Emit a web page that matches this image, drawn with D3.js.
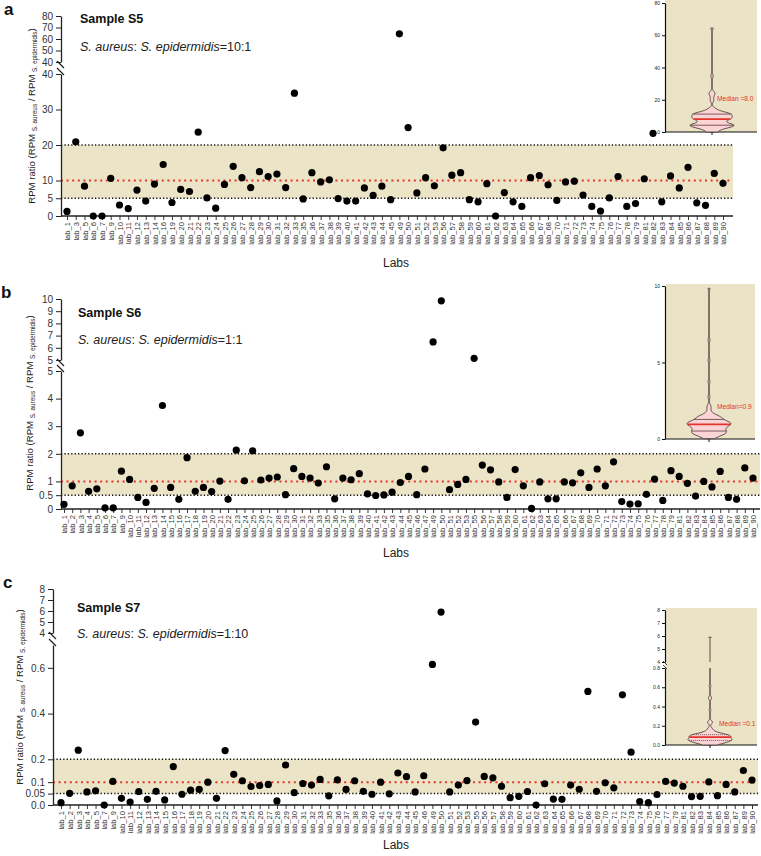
<!DOCTYPE html>
<html><head><meta charset="utf-8">
<script src="https://cdn.jsdelivr.net/npm/d3@7"></script>
<style>body{margin:0;background:#fff} svg{display:block;font-family:"Liberation Sans",Arial,Helvetica,sans-serif}</style>
</head><body><svg id="chart" width="761" height="856"></svg>
<script>
// ---------------- DATA ----------------
const labsA = ["lab_1","lab_3","lab_5","lab_6","lab_7","lab_9","lab_10","lab_11","lab_12","lab_13","lab_14","lab_16","lab_19","lab_20","lab_21","lab_22","lab_23","lab_24","lab_25","lab_26","lab_27","lab_28","lab_29","lab_30","lab_31","lab_32","lab_33","lab_35","lab_36","lab_37","lab_38","lab_39","lab_40","lab_41","lab_42","lab_43","lab_44","lab_45","lab_49","lab_50","lab_51","lab_52","lab_53","lab_56","lab_57","lab_58","lab_59","lab_60","lab_61","lab_62","lab_63","lab_64","lab_65","lab_66","lab_67","lab_68","lab_70","lab_71","lab_72","lab_73","lab_74","lab_75","lab_76","lab_77","lab_78","lab_79","lab_81","lab_82","lab_83","lab_84","lab_85","lab_86","lab_87","lab_88","lab_89","lab_90"];
const valuesA = [1.3,20.9,8.4,0,0,10.6,3.1,2.1,7.3,4.2,9.0,14.5,3.8,7.5,6.9,23.6,5.1,2.2,8.9,14.0,10.8,8.0,12.5,11.1,11.8,8.0,34.6,4.8,12.2,9.6,10.2,4.9,4.2,4.2,7.9,5.8,
  8.4,4.6,64.5,24.9,6.5,10.8,8.5,19.2,11.5,12.2,4.6,4.0,9.1,0.0,6.6,4.0,2.7,10.8,11.4,8.8,4.4,9.6,9.8,5.9,2.7,1.4,5.1,11.1,2.7,3.5,10.5,23.3,4.0,11.3,7.9,13.7,3.7,3.0,12.0,9.2];

const labsB = ["lab_1","lab_2","lab_3","lab_4","lab_5","lab_6","lab_7","lab_9","lab_10","lab_11","lab_12","lab_13","lab_14","lab_15","lab_16","lab_17","lab_18","lab_19","lab_20","lab_21","lab_22","lab_23","lab_24","lab_25","lab_26","lab_27","lab_28","lab_29","lab_30","lab_31","lab_32","lab_33","lab_35","lab_36","lab_37","lab_38","lab_39","lab_40","lab_41","lab_42","lab_43","lab_44","lab_45","lab_46","lab_47","lab_49","lab_50","lab_51","lab_52","lab_53","lab_55","lab_56","lab_57","lab_58","lab_59","lab_60","lab_61","lab_62","lab_63","lab_64","lab_65","lab_66","lab_67","lab_68","lab_69","lab_70","lab_71","lab_72","lab_73","lab_74","lab_75","lab_76","lab_77","lab_78","lab_79","lab_81","lab_82","lab_83","lab_84","lab_85","lab_86","lab_87","lab_88","lab_89","lab_90"];
const valuesB = [0.17,0.84,2.76,0.64,0.73,0.04,0.04,1.37,1.07,0.42,0.24,0.75,3.75,0.78,0.35,1.86,0.64,0.78,0.63,1.01,0.35,2.13,1.02,2.11,1.05,1.12,1.16,0.52,1.46,1.18,1.12,0.94,1.53,0.37,1.12,1.06,1.28,0.55,0.49,
  0.51,0.61,0.96,1.18,0.52,1.45,6.48,9.85,0.70,0.89,1.07,5.14,1.59,1.42,0.98,0.42,1.43,0.84,0.02,0.98,0.37,0.37,0.98,0.95,1.31,0.78,1.45,0.84,1.71,0.27,0.18,0.19,0.53,1.08,0.31,1.39,1.18,0.93,0.47,1.00,0.80,1.36,0.42,0.35,1.49,1.12];

const labsC = ["lab_1","lab_2","lab_3","lab_4","lab_5","lab_7","lab_9","lab_10","lab_11","lab_12","lab_13","lab_14","lab_15","lab_16","lab_17","lab_18","lab_19","lab_20","lab_21","lab_22","lab_23","lab_24","lab_25","lab_26","lab_27","lab_28","lab_29","lab_30","lab_31","lab_32","lab_33","lab_35","lab_36","lab_37","lab_38","lab_39","lab_40","lab_41","lab_42","lab_43","lab_44","lab_45","lab_46","lab_49","lab_50","lab_51","lab_52","lab_53","lab_55","lab_56","lab_57","lab_58","lab_59","lab_60","lab_61","lab_62","lab_63","lab_64","lab_65","lab_66","lab_67","lab_68","lab_69","lab_70","lab_71","lab_72","lab_73","lab_74","lab_75","lab_76","lab_77","lab_79","lab_81","lab_82","lab_83","lab_84","lab_85","lab_86","lab_87","lab_89","lab_90"];
const valuesC = [0.010,0.051,0.240,0.057,0.062,0.0,0.103,0.029,0.013,0.059,0.025,0.060,0.022,0.168,0.047,0.065,0.068,0.100,0.029,0.238,0.134,0.106,0.081,0.085,0.090,0.018,0.175,0.054,0.094,0.087,0.112,0.040,0.110,0.068,0.106,0.060,0.047,
  0.100,0.049,0.140,0.124,0.057,0.128,0.615,5.9,0.057,0.087,0.107,0.363,0.125,0.119,0.082,0.032,0.038,0.059,0.0,0.093,0.026,0.025,0.087,0.069,0.497,0.060,0.097,0.075,0.482,0.231,0.015,0.010,0.046,0.103,0.096,0.082,0.037,0.038,0.101,0.041,0.090,0.057,0.151,0.109];

const ticksA_low = [0,5,10,20,30,40], ticksA_up = [40,50,60,70,80];
const ticksB_low = [0,0.5,1,2,3,4,5], ticksB_up = [5,6,7,8,9,10];
const ticksC_low = [0,0.05,0.1,0.2,0.4,0.6], ticksC_up = [4,5,6,7,8];
const labelsC_low = ["0.0","0.05","0.1","0.2","0.4","0.6"];
const insetTicksA = [0,20,40,60,80], insetTicksB = [0,5,10];
const insetTicksC_low = [0,0.2,0.4,0.6,0.8], insetTicksC_up = [4,5,6,7,8];
const insetLabelsC_low = ["0.0","0.2","0.4","0.6","0.8"];

// ---------------- DRAW ----------------
const svg = d3.select('#chart');
const BAND = '#ece4c7', INSET_BG = '#ebe3c6', RED = '#e3342b', PINK = '#fbd5d5';

function drawPanel(p) {
  const g = svg.append('g');
  const x = d3.scalePoint().domain(p.labs).range(p.xRange);
  const yLo = d3.scaleLinear().domain(p.lowDomain).range(p.lowRange);
  const yUp = d3.scaleLinear().domain(p.upDomain).range(p.upRange);
  const y = v => v > p.lowDomain[1] ? yUp(v) : yLo(v);

  g.append('rect').attr('x', p.axisX).attr('width', p.axisEnd - p.axisX)
    .attr('y', yLo(p.band[1])).attr('height', yLo(p.band[0]) - yLo(p.band[1])).attr('fill', BAND);
  p.band.forEach(b => g.append('line').attr('x1', p.axisX).attr('x2', p.axisEnd)
    .attr('y1', yLo(b)).attr('y2', yLo(b)).attr('stroke', '#111').attr('stroke-width', 1.4)
    .attr('stroke-dasharray', '1.3,2.1'));
  g.append('line').attr('x1', p.axisX).attr('x2', p.axisEnd)
    .attr('y1', yLo(p.target)).attr('y2', yLo(p.target)).attr('stroke', RED).attr('stroke-width', 2)
    .attr('stroke-dasharray', '2,3.6');

  // x axis
  const xa = g.append('g').attr('transform', `translate(0,${p.lowRange[0]})`)
    .call(d3.axisBottom(x).tickSize(4).tickSizeOuter(0));
  xa.select('.domain').remove();
  xa.append('line').attr('x1', p.axisX).attr('x2', p.axisEnd).attr('stroke', '#222').attr('stroke-width', 1.3);
  xa.selectAll('.tick line').attr('stroke', '#222').attr('stroke-width', 0.9);
  xa.selectAll('.tick text').attr('transform', 'rotate(-90)').attr('x', -6).attr('y', 0)
    .attr('dy', '0.36em').style('text-anchor', 'end').attr('fill', '#333')
    .style('font-size', '7.6px').style('font-family', '"Liberation Sans",Arial,sans-serif');

  // y axes
  const styleAxis = sel => {
    sel.select('.domain').attr('stroke', '#222').attr('stroke-width', 1.3);
    sel.selectAll('.tick line').attr('stroke', '#222').attr('stroke-width', 1);
    sel.selectAll('.tick text').attr('fill', '#333').style('font-size', '10px')
      .style('font-family', '"Liberation Sans",Arial,sans-serif');
  };
  const lowFmt = p.lowLabels ? (d, i) => p.lowLabels[i] : d3.format('~g');
  g.append('g').attr('transform', `translate(${p.axisX},0)`)
    .call(d3.axisLeft(yLo).tickValues(p.lowTicks).tickFormat(lowFmt).tickSize(5).tickSizeOuter(0)).call(styleAxis);
  g.append('g').attr('transform', `translate(${p.axisX},0)`)
    .call(d3.axisLeft(yUp).tickValues(p.upTicks).tickFormat(d3.format('~g')).tickSize(5).tickSizeOuter(0)).call(styleAxis);
  // break marks
  [[p.upRange[0] - 1, p.upRange[0] + 6], [p.lowRange[1] - 6, p.lowRange[1] + 1]].forEach(([a, b]) =>
    g.append('line').attr('x1', p.axisX - 4).attr('x2', p.axisX + 3).attr('y1', a).attr('y2', b)
      .attr('stroke', '#222').attr('stroke-width', 1.2));

  // dots
  g.append('g').selectAll('circle').data(p.values).join('circle')
    .attr('cx', (d, i) => x(p.labs[i])).attr('cy', d => y(d)).attr('r', 3.6).attr('fill', '#000');

  // panel letter, titles
  g.append('text').attr('x', p.letterX).attr('y', p.letterY).text(p.letter)
    .style('font-weight', 'bold').style('font-size', '17px').attr('fill', '#111');
  g.append('text').attr('x', p.titleX).attr('y', p.titleY).text(p.title)
    .style('font-weight', 'bold').style('font-size', '12.5px').attr('fill', '#111');
  const st = g.append('text').attr('x', p.titleX).attr('y', p.subY).style('font-size', '12.5px').attr('fill', '#222');
  st.append('tspan').style('font-style', 'italic').text('S. aureus');
  st.append('tspan').text(': ');
  st.append('tspan').style('font-style', 'italic').text('S. epidermidis');
  st.append('tspan').text('=' + p.ratio);

  // y label
  const yl = g.append('text').attr('transform', `translate(${p.ylabelX},${p.ylabelY}) rotate(-90)`)
    .style('text-anchor', 'middle').style('font-size', '9.6px').attr('fill', '#222');
  yl.append('tspan').text('RPM ratio (RPM ');
  yl.append('tspan').style('font-size', '6.4px').attr('dy', 2).text('S. aureus');
  yl.append('tspan').attr('dy', -2).text(' / RPM ');
  yl.append('tspan').style('font-size', '6.4px').attr('dy', 2).text('S. epidermidis');
  yl.append('tspan').attr('dy', -2).text(')');

  // x title
  g.append('text').attr('x', p.labsX).attr('y', p.labsY).style('text-anchor', 'middle')
    .style('font-size', '12px').attr('fill', '#222').text('Labs');
}

function drawInset(p) {
  const g = svg.append('g');
  g.append('rect').attr('x', p.x0).attr('y', p.y0).attr('width', p.x1 - p.x0).attr('height', p.y1 - p.y0).attr('fill', INSET_BG);
  const yLo = d3.scaleLinear().domain(p.lowDomain).range(p.lowRange);
  const yUp = p.upDomain ? d3.scaleLinear().domain(p.upDomain).range(p.upRange) : null;
  const sa = sel => {
    sel.select('.domain').attr('stroke', '#111').attr('stroke-width', 1.2);
    sel.selectAll('.tick line').attr('stroke', '#111');
    sel.selectAll('.tick text').style('font-size', '5px').attr('fill', '#222')
      .style('font-family', '"Liberation Sans",Arial,sans-serif');
  };
  const lf = p.lowLabels ? (d, i) => p.lowLabels[i] : d3.format('~g');
  g.append('g').attr('transform', `translate(${p.x0},0)`)
    .call(d3.axisLeft(yLo).tickValues(p.lowTicks).tickFormat(lf).tickSize(3).tickSizeOuter(0).tickPadding(2)).call(sa);
  if (yUp) {
    g.append('g').attr('transform', `translate(${p.x0},0)`)
      .call(d3.axisLeft(yUp).tickValues(p.upTicks).tickFormat(d3.format('~g')).tickSize(3).tickSizeOuter(0).tickPadding(2)).call(sa);
    [[p.upRange[0] - 1, p.upRange[0] + 3], [p.lowRange[1] - 3, p.lowRange[1] + 1]].forEach(([a, b]) =>
      g.append('line').attr('x1', p.x0 - 2).attr('x2', p.x0 + 2).attr('y1', a).attr('y2', b).attr('stroke', '#111').attr('stroke-width', 0.8));
  }
  g.append('line').attr('x1', p.x0).attr('x2', p.x1).attr('y1', p.lowRange[0]).attr('y2', p.lowRange[0])
    .attr('stroke', '#111').attr('stroke-width', 1.2);
  g.append('line').attr('x1', p.cx).attr('x2', p.cx).attr('y1', p.lowRange[0]).attr('y2', p.lowRange[0] + 3).attr('stroke', '#111');

  // violin from KDE
  const vals = p.values.slice().sort(d3.ascending);
  const mn = vals[0], mx = vals[vals.length - 1];
  const top = Math.min(mx, p.lowDomain[1]);
  const bw = p.bw;
  const dens = v => d3.mean(vals, d => Math.exp(-0.5 * ((v - d) / bw) ** 2));
  const pts = d3.range(241).map(i => mn + (top - mn) * i / 240).map(v => [v, dens(v)]);
  const dmax = d3.max(pts, d => d[1]);
  const w = d3.scaleLinear().domain([0, dmax]).range([0, p.halfW]);
  const area = d3.area().y(d => yLo(d[0])).x0(d => p.cx - w(d[1])).x1(d => p.cx + w(d[1])).curve(d3.curveBasis);
  g.append('path').datum(pts).attr('d', area).attr('fill', PINK).attr('stroke', '#3a2a2a').attr('stroke-width', 0.8);
  if (mx > p.lowDomain[1] && yUp) {
    g.append('line').attr('x1', p.cx).attr('x2', p.cx).attr('y1', yLo(top)).attr('y2', p.lowRange[1]).attr('stroke', '#3a2a2a').attr('stroke-width', 0.8);
    g.append('line').attr('x1', p.cx).attr('x2', p.cx).attr('y1', yUp(p.upDomain[0])).attr('y2', yUp(mx)).attr('stroke', '#3a2a2a').attr('stroke-width', 0.8);
    g.append('line').attr('x1', p.cx - 1.5).attr('x2', p.cx + 1.5).attr('y1', yUp(mx)).attr('y2', yUp(mx)).attr('stroke', '#3a2a2a').attr('stroke-width', 0.8);
  }
  const q1 = d3.quantile(vals, 0.25), q3 = d3.quantile(vals, 0.75), med = d3.median(vals);
  [q1, q3].forEach(q => g.append('line').attr('x1', p.cx - w(dens(q))).attr('x2', p.cx + w(dens(q)))
    .attr('y1', yLo(q)).attr('y2', yLo(q)).attr('stroke', '#5a3a3a').attr('stroke-width', 0.8)
    .attr('stroke-dasharray', p.dashQ ? '1,1' : null));
  g.append('line').attr('x1', p.cx - w(dens(med))).attr('x2', p.cx + w(dens(med)))
    .attr('y1', yLo(med)).attr('y2', yLo(med)).attr('stroke', RED).attr('stroke-width', 1.8);
  g.append('text').attr('x', p.mx).attr('y', p.my).text(p.medText).style('font-size', '6.6px').attr('fill', RED);
}

drawPanel({labs: labsA, values: valuesA, letter: 'a', letterX: 4, letterY: 15,
  axisX: 61, xRange: [67, 723], axisEnd: 733,
  lowDomain: [0, 40], lowRange: [216, 74], upDomain: [40, 80], upRange: [62, 16],
  lowTicks: ticksA_low, upTicks: ticksA_up, band: [5, 20], target: 10,
  title: 'Sample S5', titleX: 80, titleY: 23, subY: 51, ratio: '10:1',
  ylabelX: 35, ylabelY: 116, labsX: 396, labsY: 267});
drawInset({values: valuesA, x0: 665, x1: 757, y0: 0, y1: 132, cx: 712,
  lowDomain: [0, 80], lowRange: [132, 3], lowTicks: insetTicksA, bw: 1.15, halfW: 22,
  medText: 'Median =8.0', mx: 717, my: 101});

drawPanel({labs: labsB, values: valuesB, letter: 'b', letterX: 1, letterY: 298,
  axisX: 61, xRange: [64, 753], axisEnd: 760,
  lowDomain: [0, 5], lowRange: [509, 371], upDomain: [5, 10], upRange: [360, 299],
  lowTicks: ticksB_low, upTicks: ticksB_up, band: [0.5, 2], target: 1,
  title: 'Sample S6', titleX: 78, titleY: 317, subY: 344, ratio: '1:1',
  ylabelX: 33, ylabelY: 403, labsX: 396, labsY: 557});
drawInset({values: valuesB, x0: 665, x1: 755, y0: 284, y1: 439, cx: 709,
  lowDomain: [0, 10], lowRange: [439, 286], lowTicks: insetTicksB, bw: 0.15, halfW: 22,
  medText: 'Median=0.9', mx: 717, my: 409});

drawPanel({labs: labsC, values: valuesC, letter: 'c', letterX: 3, letterY: 588,
  axisX: 53, xRange: [61, 752], axisEnd: 758,
  lowDomain: [0, 0.7], lowRange: [805, 645], upDomain: [4, 8], upRange: [633, 589],
  lowTicks: ticksC_low, lowLabels: labelsC_low, upTicks: ticksC_up, band: [0.05, 0.2], target: 0.1,
  title: 'Sample S7', titleX: 77, titleY: 612, subY: 638, ratio: '1:10',
  ylabelX: 23, ylabelY: 697, labsX: 396, labsY: 849});
drawInset({values: valuesC, x0: 665, x1: 757, y0: 608, y1: 745, cx: 710,
  lowDomain: [0, 0.8], lowRange: [745, 668], lowTicks: insetTicksC_low, lowLabels: insetLabelsC_low,
  upDomain: [4, 8], upRange: [662, 610], upTicks: insetTicksC_up, bw: 0.017, halfW: 22, dashQ: true,
  medText: 'Median =0.1', mx: 719, my: 726});
</script></body></html>
